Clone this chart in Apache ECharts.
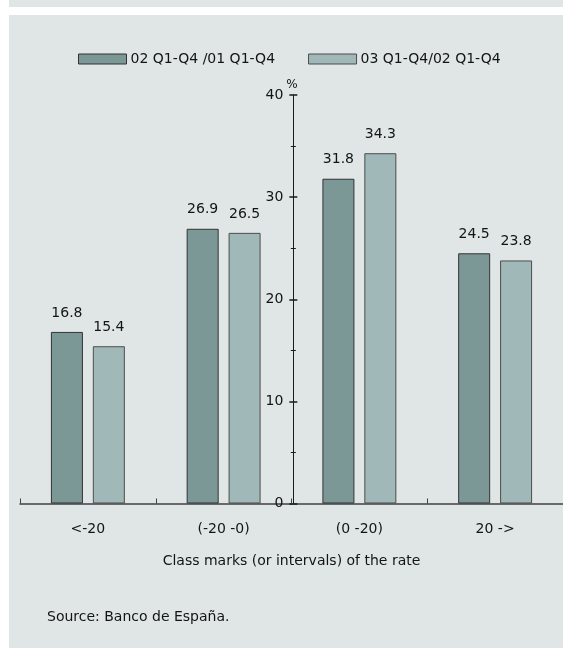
<!DOCTYPE html>
<html>
<head>
<meta charset="utf-8">
<script src="https://cdn.jsdelivr.net/npm/echarts@6/dist/echarts.min.js"></script>
<style>
  html, body { margin: 0; padding: 0; background: #ffffff; }
  #chart { width: 563px; height: 648px; }
</style>
</head>
<body>
<div id="chart"></div>
<script>
// Distribution of firms by class of growth rate (%)
const categories = ['<-20', '(-20 -0)', '(0 -20)', '20 ->'];
const seriesNames = ['02 Q1-Q4 /01 Q1-Q4', '03 Q1-Q4/02 Q1-Q4'];
const values0201 = [16.8, 26.9, 31.8, 24.5];
const values0302 = [15.4, 26.5, 34.3, 23.8];
const yTicks = { min: 0, max: 40, interval: 10 };

const FONT = "'DejaVu Sans', 'Liberation Sans', Arial, sans-serif";
const FS = 14;
const TEXT = '#141414';
const PANEL = '#dfe6e5';
const COLORS = ['#7b9897', '#a0b8b7'];

// Geometry of the plotting area
const gridLeft = 20;
const gridTop = 95;
const catWidth = 410 / 3;
const yAxisX = gridLeft + 2 * catWidth;

const chart = echarts.init(document.getElementById('chart'), null, { renderer: 'canvas' });

const yAxisBase = {
  type: 'value',
  position: 'left',
  offset: -(yAxisX - gridLeft),
  min: yTicks.min,
  max: yTicks.max,
  interval: yTicks.interval,
  splitLine: { show: false },
  axisLine: { show: true, lineStyle: { color: '#1a1a1a', width: 1 } },
  minorTick: { show: true, splitNumber: 2, length: 2.5, lineStyle: { color: '#1a1a1a', width: 1 } },
  minorSplitLine: { show: false }
};

const barLabel = {
  show: true, position: 'top', distance: 12,
  fontFamily: FONT, fontSize: FS, color: TEXT,
  formatter: p => p.value.toFixed(1)
};

chart.setOption({
  backgroundColor: '#ffffff',
  animation: false,
  textStyle: { fontFamily: FONT, color: TEXT },
  graphic: [
    { type: 'rect', z: -100, silent: true, shape: { x: 9, y: 0, width: 554, height: 7 }, style: { fill: PANEL } },
    { type: 'rect', z: -100, silent: true, shape: { x: 9, y: 15, width: 554, height: 633 }, style: { fill: PANEL } },
    // unit mark at the top of the value axis
    {
      type: 'text', x: yAxisX - 1.5, y: gridTop - 10,
      style: { text: '%', font: '12px ' + FONT, fill: TEXT, align: 'center', verticalAlign: 'middle' }
    },
    {
      type: 'text', left: 47, top: 610,
      style: { text: 'Source: Banco de España.', font: FS + 'px ' + FONT, fill: TEXT }
    }
  ],
  legend: {
    data: seriesNames,
    left: 78,
    top: 52,
    padding: 0,
    itemWidth: 48,
    itemHeight: 10,
    itemGap: 33,
    icon: 'rect',
    itemStyle: { borderWidth: 1 },
    textStyle: { fontFamily: FONT, fontSize: FS, color: TEXT, padding: [0, 0, 0, -1] }
  },
  grid: {
    left: gridLeft,
    right: 563 - (gridLeft + 4 * catWidth),
    top: gridTop,
    bottom: 648 - 503.5,
    containLabel: false
  },
  xAxis: {
    type: 'category',
    data: categories,
    boundaryGap: true,
    axisLine: { show: true, lineStyle: { color: '#404040', width: 1.5 } },
    axisTick: { show: true, inside: true, length: 5, lineStyle: { color: '#404040', width: 1 } },
    axisLabel: { fontFamily: FONT, fontSize: FS, color: TEXT, margin: 19 },
    name: 'Class marks (or intervals) of the rate',
    nameLocation: 'middle',
    nameGap: 51,
    nameTextStyle: { fontFamily: FONT, fontSize: FS, color: TEXT }
  },
  yAxis: [
    Object.assign({}, yAxisBase, {
      axisTick: { show: true, inside: false, length: 4, lineStyle: { color: '#1a1a1a', width: 1.5 } },
      axisLabel: { fontFamily: FONT, fontSize: FS, color: TEXT, margin: 10 }
    }),
    Object.assign({}, yAxisBase, {
      axisTick: { show: true, inside: true, length: 4, lineStyle: { color: '#1a1a1a', width: 1.5 } },
      axisLabel: { show: false }
    })
  ],
  series: [
    {
      name: seriesNames[0],
      type: 'bar',
      data: values0201,
      yAxisIndex: 0,
      barWidth: 32,
      barGap: '31%',
      itemStyle: { color: COLORS[0], borderColor: '#333333', borderWidth: 1 },
      label: barLabel
    },
    {
      name: seriesNames[1],
      type: 'bar',
      data: values0302,
      yAxisIndex: 0,
      barWidth: 32,
      barGap: '31%',
      itemStyle: { color: COLORS[1], borderColor: '#4d4d4d', borderWidth: 1 },
      label: barLabel
    }
  ]
});
</script>
</body>
</html>
